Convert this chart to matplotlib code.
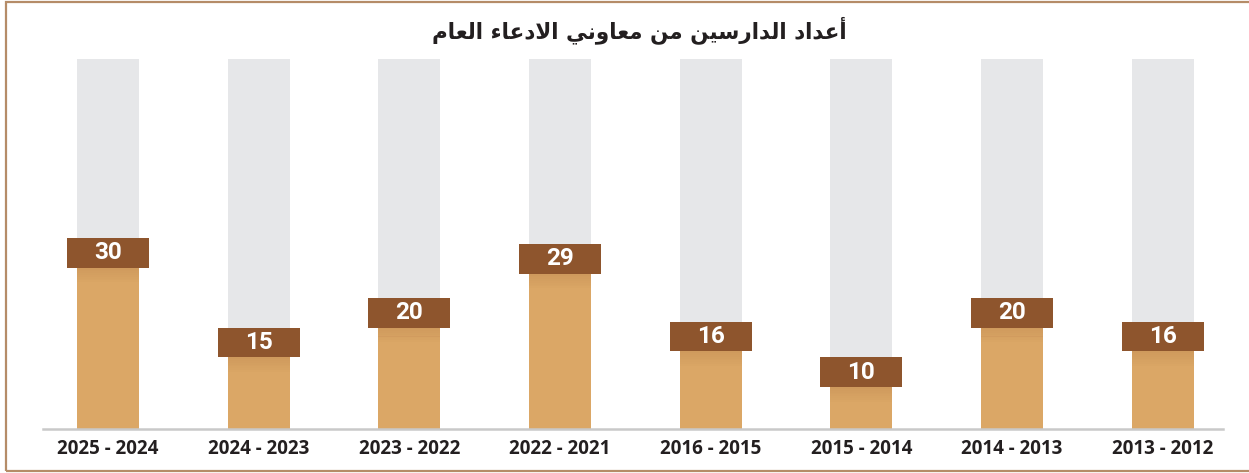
import matplotlib
matplotlib.use("Agg")
import matplotlib.pyplot as plt
from matplotlib.patches import Rectangle

# data
years = ["2025 - 2024", "2024 - 2023", "2023 - 2022", "2022 - 2021",
         "2016 - 2015", "2015 - 2014", "2014 - 2013", "2013 - 2012"]
counts = [30, 15, 20, 29, 16, 10, 20, 16]
title = "أعداد الدارسين من معاوني الادعاء العام"

# tiny arabic shaper: matplotlib has no complex text layout
JOIN = {
    'ا': ('R', 0xFE8D), 'أ': ('R', 0xFE83), 'د': ('R', 0xFEA9), 'ر': ('R', 0xFEAD),
    'و': ('R', 0xFEED), 'ء': ('N', 0xFE80),
    'ع': ('D', 0xFEC9), 'ل': ('D', 0xFEDD), 'س': ('D', 0xFEB1), 'ي': ('D', 0xFEF1),
    'ن': ('D', 0xFEE5), 'م': ('D', 0xFEE1),
}


def joins(c):
    return c in JOIN and JOIN[c][0] != 'N'


def shape(text):
    out = []
    i = 0
    while i < len(text):
        c = text[i]
        prev = text[i - 1] if i > 0 else ' '
        nxt = text[i + 1] if i + 1 < len(text) else ' '
        jp = prev in JOIN and JOIN[prev][0] == 'D' and joins(c)
        if c == 'ل' and nxt == 'ا':
            out.append(chr(0xFEFC if jp else 0xFEFB))
            i += 2
            continue
        if c not in JOIN:
            out.append(c)
            i += 1
            continue
        jn = JOIN[c][0] == 'D' and joins(nxt)
        base = JOIN[c][1]
        if jp and jn:
            out.append(chr(base + 3))
        elif jn:
            out.append(chr(base + 2))
        elif jp:
            out.append(chr(base + 1))
        else:
            out.append(chr(base))
        i += 1
    return ''.join(reversed(out))


gray = "#E6E7E9"
orange = "#DBA766"
brown = "#8E552D"
ymin, ymax = 3.0, 65.0
box_h = 5.0

fig = plt.figure(figsize=(12.49, 4.73), dpi=100)
ax = fig.add_axes([43 / 1249, 44 / 473, 1180 / 1249, 370 / 473])

x = list(range(len(counts)))
ax.bar(x, [ymax] * len(x), width=0.41, color=gray, zorder=1)
ax.bar(x, counts, width=0.41, color=orange, zorder=2)
# soft shadow under the label boxes
for k in range(8):
    ax.bar(x, [0.3] * len(x), bottom=[v - 0.3 * (k + 1) for v in counts],
           width=0.41, color=brown, alpha=0.15 * (1 - k / 8), lw=0, zorder=3)
ax.bar(x, [box_h] * len(x), bottom=counts, width=0.545, color=brown, zorder=4)
for xi, v in zip(x, counts):
    ax.text(xi, v + box_h / 2, str(v), ha="center", va="center", color="white",
            fontsize=17.5, fontweight="bold", family="Roboto", zorder=5)

ax.set_xlim(-0.431, 7.40)
ax.set_ylim(ymin, ymax)
ax.axhline(ymin, color="#C9C9C9", lw=1.8, zorder=6, clip_on=False)
for s in ax.spines.values():
    s.set_visible(False)
ax.set_yticks([])
ax.set_xticks(x)
ax.set_xticklabels(years, fontsize=13.5, fontweight="bold", family="Open Sans",
                   color="#231F20")
ax.tick_params(axis="x", length=0, pad=7)

fig.text(0.512, 0.937, shape(title), ha="center", va="center", fontsize=15.5,
         fontweight="bold", family=["DejaVu Sans"], color="#231F20")

fig.patches.append(Rectangle((6 / 1249, 2 / 473), 1.02, 469 / 473, fill=False,
                             edgecolor="#B58C68", lw=1.6, transform=fig.transFigure))

fig.savefig("out.png", dpi=100)
